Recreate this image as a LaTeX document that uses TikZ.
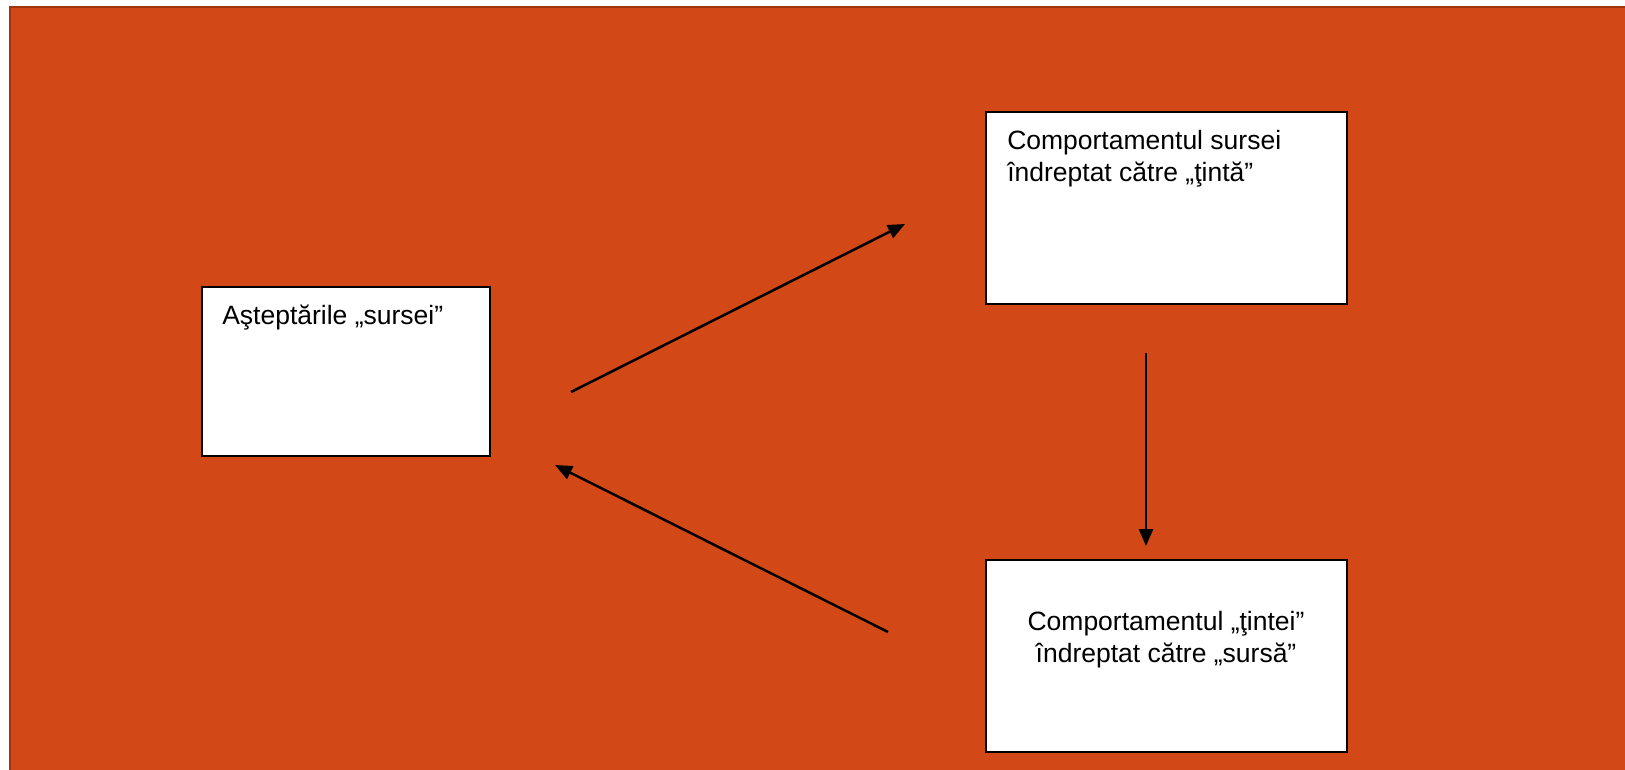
\documentclass[tikz,border=0pt]{standalone}
\usepackage{fontspec}
\setmainfont{Liberation Sans}
\usetikzlibrary{arrows.meta}
\definecolor{slide}{RGB}{211,72,23}
\definecolor{slideedge}{RGB}{160,52,14}

\begin{document}
\begin{tikzpicture}[->,>={Triangle[length=17pt,width=14pt]},line width=2.5pt,draw=black,x=1pt,y=-1pt]
    \tikzstyle{box}=[draw=black,fill=white,line width=2pt,inner sep=0pt]
    \tikzstyle{small box}=[box,minimum width=288pt,minimum height=169pt]
    \tikzstyle{big box}=[box,minimum width=361pt,minimum height=192pt]
    \tikzstyle{caption}=[inner sep=0pt,font=\fontsize{26.5}{32}\selectfont]

    % Draw the slide background
    \useasboundingbox (0,0) rectangle (1625,770);
    \fill[-,slide] (9,6) rectangle (1625,770);
    \draw[-,slideedge,line width=2pt] (10,770) -- (10,7) -- (1625,7);

    % Draw the boxes
    \path node[small box] (exp) at (346,371.5) {};
    \path node[big box] (src) at (1166.5,208) {};
    \path node[big box] (tgt) at (1166.5,656) {};

    % Write the texts in the boxes
    \path node[caption,anchor=base west] (exp-t) at (221,324) {Aşteptările „sursei”};
    \path node[caption,anchor=north west,align=left] (src-t) at (1006,129) {Comportamentul sursei\\îndreptat către „ţintă”};
    \path node[caption,anchor=north,align=center] (tgt-t) at (1166,610.5) {Comportamentul „ţintei”\\îndreptat către „sursă”};

    % Free ends of the arrows
    \coordinate (A-1) at ([shift={(80,20.5)}]exp.east);
    \coordinate (B-1) at ([shift={(-80,16)}]src.west);
    \coordinate (A-2) at ([shift={(-20.5,48)}]src.south);
    \coordinate (B-2) at ([shift={(-20.5,-13)}]tgt.north);
    \coordinate (A-3) at ([shift={(-97,-24)}]tgt.west);
    \coordinate (B-3) at ([shift={(64,8)}]exp.south east);

    % Connect the boxes in a cycle
    \foreach \n in {1,2,3}
      \path (A-\n) edge (B-\n);
\end{tikzpicture}
\end{document}
